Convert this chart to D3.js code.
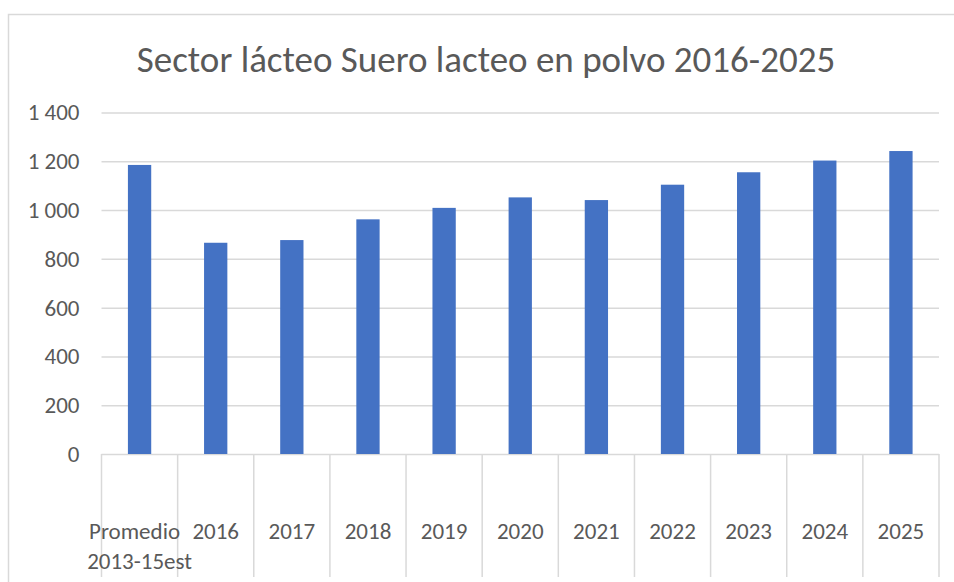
<!DOCTYPE html>
<html lang="es">
<head>
    <meta charset="UTF-8">
    <title>Sector lácteo Suero lacteo en polvo 2016-2025</title>
    <script src="https://d3js.org/d3.v7.min.js"></script>
    <style>
        body { margin: 0; background: #fff; }
        text { font-family: Carlito, Lato, "Open Sans", sans-serif; fill: #595959; }
    </style>
</head>
<body>
    <svg width="954" height="582"></svg>

    <script>
        const categories = ["Promedio 2013-15est", "2016", "2017", "2018", "2019", "2020",
                            "2021", "2022", "2023", "2024", "2025"];
        const values = [1185, 866, 877, 962, 1009, 1052, 1041, 1104, 1155, 1203, 1242];
        const yTicks = [0, 200, 400, 600, 800, 1000, 1200, 1400];

        const svg = d3.select("svg");

        const plotLeft = 101.5, plotRight = 939, plotTop = 112.5, plotBottom = 454;

        // chart frame (right and bottom edges fall outside the picture)
        svg.append("path")
            .attr("d", "M8.5,600V14.5H960")
            .attr("fill", "none")
            .attr("stroke", "#d9d9d9")
            .attr("stroke-width", 1.5);

        svg.append("text")
            .attr("x", 486)
            .attr("y", 72)
            .attr("text-anchor", "middle")
            .style("font-size", "37px")
            .text("Sector lácteo Suero lacteo en polvo 2016-2025");

        const x = d3.scaleBand()
            .domain(categories)
            .range([plotLeft, plotRight])
            .paddingInner(0.694)
            .paddingOuter(0.347);

        const xb = d3.scaleBand()
            .domain(categories)
            .range([plotLeft, plotRight]);

        const y = d3.scaleLinear()
            .domain([0, 1400])
            .range([plotBottom, plotTop]);

        const fmt = v => d3.format(",")(v).replace(",", " ");

        // gridlines + y labels
        const yAxis = d3.axisLeft(y)
            .tickValues(yTicks)
            .tickSize(-(plotRight - plotLeft))
            .tickFormat(fmt)
            .tickPadding(22);

        const gy = svg.append("g")
            .attr("transform", `translate(${plotLeft},0)`)
            .call(yAxis);
        gy.select(".domain").remove();
        gy.selectAll(".tick line")
            .attr("stroke", "#d9d9d9")
            .attr("stroke-width", 1.5);
        gy.selectAll(".tick text")
            .style("font-size", "23px")
            .attr("fill", "#595959");

        // category dividers
        const bounds = categories.map(c => xb(c)).concat([plotRight]);
        svg.append("g")
            .selectAll("line")
            .data(bounds)
            .enter().append("line")
            .attr("x1", d => d)
            .attr("x2", d => d)
            .attr("y1", plotBottom)
            .attr("y2", 577)
            .attr("stroke", "#d9d9d9")
            .attr("stroke-width", 1.5);

        // bars
        svg.append("g")
            .selectAll("rect")
            .data(values)
            .enter().append("rect")
            .attr("x", (d, i) => x(categories[i]))
            .attr("width", x.bandwidth())
            .attr("y", d => y(d))
            .attr("height", d => y(0) - y(d))
            .attr("fill", "#4472c4");

        // category labels
        const labels = svg.append("g")
            .selectAll("text")
            .data(categories)
            .enter().append("text")
            .attr("text-anchor", "middle")
            .attr("x", d => xb(d) + xb.bandwidth() / 2)
            .attr("y", 539)
            .style("font-size", "23px");

        labels.each(function(d) {
            const parts = d.indexOf(" ") > 0 && d.length > 6 ? d.split(" ") : [d];
            const t = d3.select(this);
            parts.forEach((p, k) => {
                t.append("tspan")
                    .attr("x", xb(d) + xb.bandwidth() / 2 - (k === 0 && parts.length > 1 ? 5 : 0))
                    .attr("dy", k === 0 ? 0 : 30)
                    .text(p);
            });
        });
    </script>
</body>
</html>
